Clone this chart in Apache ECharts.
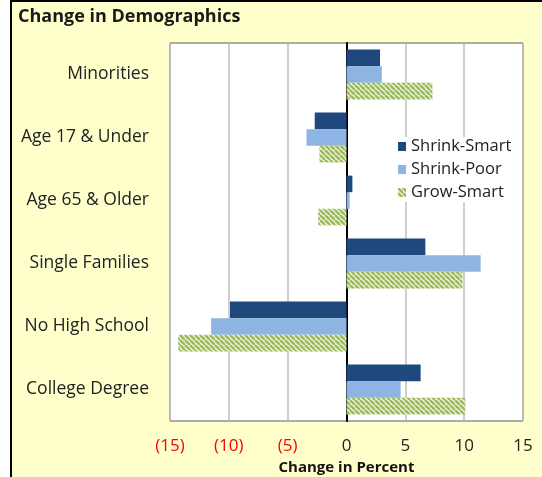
<!DOCTYPE html>
<html><head><meta charset="utf-8">
<script src="https://cdn.jsdelivr.net/npm/echarts@6/dist/echarts.min.js"></script>
<style>html,body{margin:0;padding:0;background:#fff}#c{width:542px;height:477px}</style>
</head><body><div id="c"></div>
<script>
var categories = ['Minorities', 'Age 17 & Under', 'Age 65 & Older', 'Single Families', 'No High School', 'College Degree'];
var shrinkSmart = [2.85, -2.7, 0.5, 6.7, -9.9, 6.3];
var shrinkPoor = [3.0, -3.4, 0.27, 11.4, -11.5, 4.6];
var growSmart = [7.3, -2.3, -2.4, 9.85, -14.3, 10.1];
var xTicks = [-15, -10, -5, 0, 5, 10, 15];

function stripes() {
  var n = 5, c = document.createElement('canvas');
  c.width = n; c.height = n;
  var g = c.getContext('2d');
  g.fillStyle = '#EEF3E3'; g.fillRect(0, 0, n, n);
  g.strokeStyle = '#9BBB59'; g.lineWidth = 2.4;
  for (var k = -1; k <= 1; k++) { g.beginPath(); g.moveTo(k * n, 0); g.lineTo(k * n + n, n); g.stroke(); }
  return c;
}
var pat = { image: stripes(), repeat: 'repeat' };
var FONT = 'Open Sans';
var chart = echarts.init(document.getElementById('c'));
chart.setOption({
  animation: false,
  textStyle: { fontFamily: FONT },
  graphic: [
    { type: 'rect', z: -100, shape: { x: 11, y: 1, width: 600, height: 600 }, style: { fill: '#FFFFCC', stroke: '#000', lineWidth: 2 } },
    { type: 'text', left: 18, top: 8, style: { text: 'Change in Demographics', font: 'bold 18px "Open Sans"', fill: '#1a1a1a' } }
  ],
  legend: {
    orient: 'vertical', left: 394, top: 137, itemWidth: 8, itemHeight: 9, itemGap: 6,
    backgroundColor: '#fff', padding: [1, 2, 1, 4],
    textStyle: { fontSize: 16.5, color: '#222', fontFamily: FONT },
    data: [{ name: 'Shrink-Smart', icon: 'rect' }, { name: 'Shrink-Poor', icon: 'rect' }, { name: 'Grow-Smart', icon: 'rect' }]
  },
  grid: { left: 170, top: 43, width: 353, height: 378, show: true, backgroundColor: '#fff', borderColor: '#595959', borderWidth: 1, outerBoundsMode: 'none', containLabel: false },
  xAxis: {
    type: 'value', min: -15, max: 15, interval: 5,
    name: 'Change in Percent', nameLocation: 'middle', nameGap: 37,
    nameTextStyle: { fontWeight: 'bold', fontSize: 15, color: '#111', fontFamily: FONT },
    axisLine: { show: false }, axisTick: { show: false },
    splitLine: { show: true, lineStyle: { color: '#BFBFBF', width: 1.5 } },
    axisLabel: {
      margin: 17,
      formatter: function (v) { return v < 0 ? '{n|(' + (-v) + ')}' : '{p|' + v + '}'; },
      rich: { n: { color: '#FF0000', fontSize: 17, fontFamily: FONT }, p: { color: '#222', fontSize: 17, fontFamily: FONT } }
    }
  },
  yAxis: {
    type: 'category', data: categories, inverse: true,
    axisLine: { show: true, onZero: true, lineStyle: { color: '#000', width: 2 } },
    axisTick: { show: false },
    axisLabel: { margin: 21, fontSize: 17.5, color: '#222', fontFamily: FONT }
  },
  series: [
    { name: 'Shrink-Smart', type: 'bar', data: shrinkSmart, barGap: '0%', barCategoryGap: '21%', itemStyle: { color: '#1F497D' } },
    { name: 'Shrink-Poor', type: 'bar', data: shrinkPoor, itemStyle: { color: '#8DB4E2' } },
    { name: 'Grow-Smart', type: 'bar', data: growSmart, itemStyle: { color: pat } }
  ]
});
</script></body></html>
